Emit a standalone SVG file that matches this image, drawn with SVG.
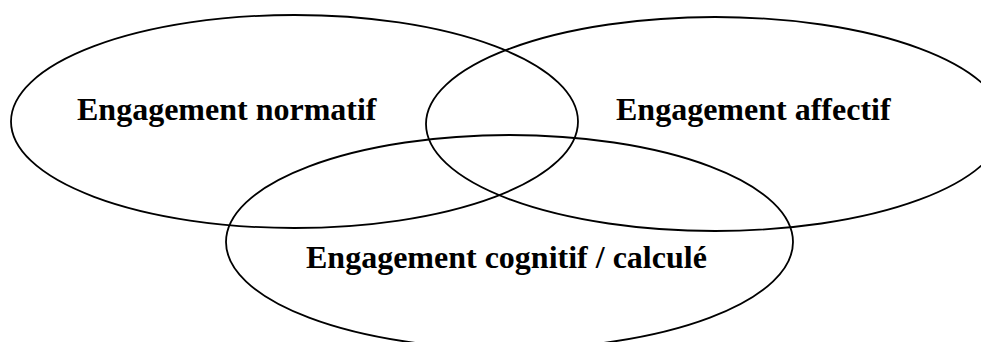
<svg xmlns="http://www.w3.org/2000/svg" width="981" height="342" viewBox="0 0 981 342">
<style>
.e{fill:none;stroke:#000;stroke-width:1.8}
.t{font-family:"Liberation Serif","Times New Roman",serif;font-weight:bold;font-size:32px;fill:#000}
</style>
<rect width="981" height="342" fill="#fff"/>
<g id="normatif">
<ellipse class="e" cx="294.5" cy="121.5" rx="283.5" ry="106.5"/>
<text class="t" x="77" y="120">Engagement normatif</text>
</g>
<g id="affectif">
<ellipse class="e" cx="715" cy="124" rx="289" ry="107"/>
<text class="t" x="616" y="120">Engagement affectif</text>
</g>
<g id="cognitif">
<ellipse class="e" cx="509.5" cy="242" rx="283.5" ry="107"/>
<text class="t" x="306" y="268">Engagement cognitif / calculé</text>
</g>
<g id="connectors"/>
</svg>
